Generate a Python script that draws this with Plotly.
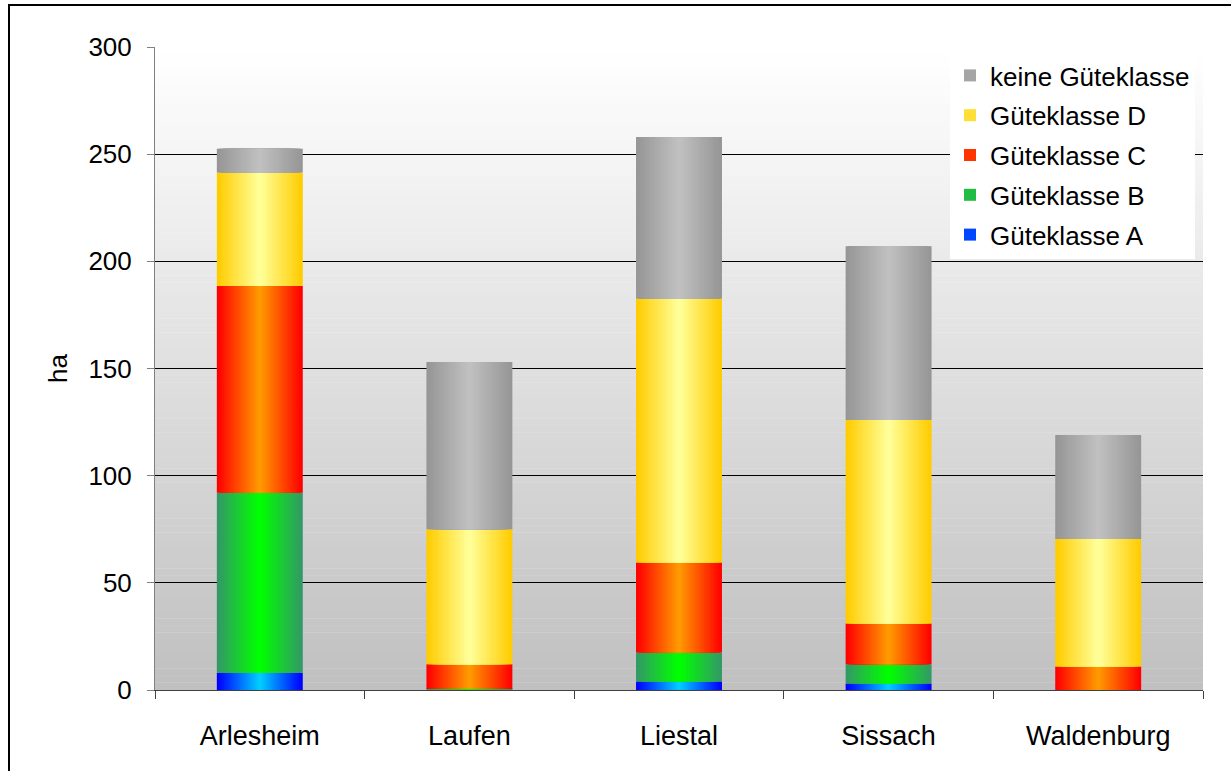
import numpy as np
import plotly.graph_objects as go

# Forest area per district and quality class (hectares)
regions = ["Arlesheim", "Laufen", "Liestal", "Sissach", "Waldenburg"]
klasse_a = [8, 0, 4, 3, 0]
klasse_b = [84, 0.5, 13.5, 9, 0]
klasse_c = [96.5, 11.5, 42, 19, 11]
klasse_d = [53, 63, 123, 95, 59.5]
keine_klasse = [11, 78, 75.5, 81, 48.5]

series_names = ["Güteklasse A", "Güteklasse B", "Güteklasse C",
                "Güteklasse D", "keine Güteklasse"]
series_values = [klasse_a, klasse_b, klasse_c, klasse_d, keine_klasse]
# (edge colour, centre colour) of the horizontal gradient of each segment
series_colors = [("#0000ff", "#00ccff"), ("#339966", "#00ff00"),
                 ("#ff0000", "#ff9900"), ("#ffcc00", "#ffff99"),
                 ("#969696", "#c0c0c0")]

y_ticks = [0, 50, 100, 150, 200, 250, 300]

W, H = 1231, 771
ML, MR, MT, MB = 155, 28, 47, 81
FONT = "Liberation Sans, Arial, sans-serif"
BAR_W = 0.41
LAYERS = 24


def hex_rgb(h):
    h = h.lstrip("#")
    return np.array([int(h[i:i + 2], 16) for i in (0, 2, 4)], dtype=float)


def mix(c0, c1, t):
    c = hex_rgb(c0) * (1 - t) + hex_rgb(c1) * t
    return "rgb(%d,%d,%d)" % tuple(np.round(c).astype(int))


fig = go.Figure()

values = np.array(series_values, dtype=float)
bases = np.vstack([np.zeros(len(regions)), np.cumsum(values, axis=0)[:-1]])

# Each segment is painted as nested bars, narrowing towards the centre,
# so the fill runs from the edge colour to the lighter centre colour.
for s, name in enumerate(series_names):
    edge, centre = series_colors[s]
    for k in range(LAYERS):
        t = k / (LAYERS - 1)
        fig.add_trace(go.Bar(
            x=regions,
            y=values[s],
            base=bases[s],
            width=BAR_W * (LAYERS - k) / LAYERS,
            marker=dict(color=mix(edge, centre, t), line=dict(width=0)),
            name=name,
            legendgroup=name,
            legendrank=len(series_names) - s,
            showlegend=(k == LAYERS // 3),
            hoverinfo="x+y+name" if k == 0 else "skip",
        ))

# Plot-area background: vertical fade from white to light grey
shapes = []
bands = 90
for i in range(bands):
    t = i / (bands - 1)
    shapes.append(dict(
        type="rect", xref="paper", yref="paper", layer="below",
        x0=0, x1=1, y0=i / bands, y1=(i + 1.05) / bands,
        fillcolor=mix("#c0c0c0", "#ffffff", t), line=dict(width=0),
    ))

# Frame around the whole chart (right and bottom sides run off the page)
pw, ph = W - ML - MR, H - MT - MB
shapes.append(dict(
    type="rect", xref="paper", yref="paper", layer="above",
    x0=(9 - ML) / pw, x1=(W + 100 - ML) / pw,
    y0=-(MB + 100) / ph,
    y1=(H - 5 - MB) / ph,
    line=dict(color="#000000", width=2), fillcolor="rgba(0,0,0,0)",
))

fig.update_layout(
    width=W, height=H,
    margin=dict(l=ML, r=MR, t=MT, b=MB),
    paper_bgcolor="#ffffff",
    plot_bgcolor="#ffffff",
    barmode="overlay",
    font=dict(family=FONT, size=26, color="#000000"),
    shapes=shapes,
    showlegend=True,
    legend=dict(
        x=(950 - ML) / pw, xanchor="left",
        y=(H - 52 - MB) / ph, yanchor="top",
        bgcolor="#ffffff", borderwidth=0,
        traceorder="grouped", tracegroupgap=3,
        font=dict(family=FONT, size=26, color="#000000"),
    ),
    xaxis=dict(
        type="category", range=[-0.5, 4.5],
        showline=True, linecolor="#404040", linewidth=1,
        ticks="outside", tickson="boundaries", ticklen=8,
        tickcolor="#404040", tickwidth=1,
        showgrid=False, ticklabelstandoff=22,
        tickfont=dict(family=FONT, size=27, color="#000000"),
        automargin=False,
    ),
    yaxis=dict(
        range=[0, 300], tickvals=y_ticks,
        showline=True, linecolor="#808080", linewidth=1,
        ticks="outside", ticklen=7, tickcolor="#808080", tickwidth=1,
        showgrid=True, gridcolor="#000000", gridwidth=1,
        zeroline=False, ticklabelstandoff=10,
        tickfont=dict(family=FONT, size=26, color="#000000"),
        title=dict(text="ha", standoff=13,
                   font=dict(family=FONT, size=26, color="#000000")),
        automargin=False,
    ),
)

fig.write_html("out.html")
